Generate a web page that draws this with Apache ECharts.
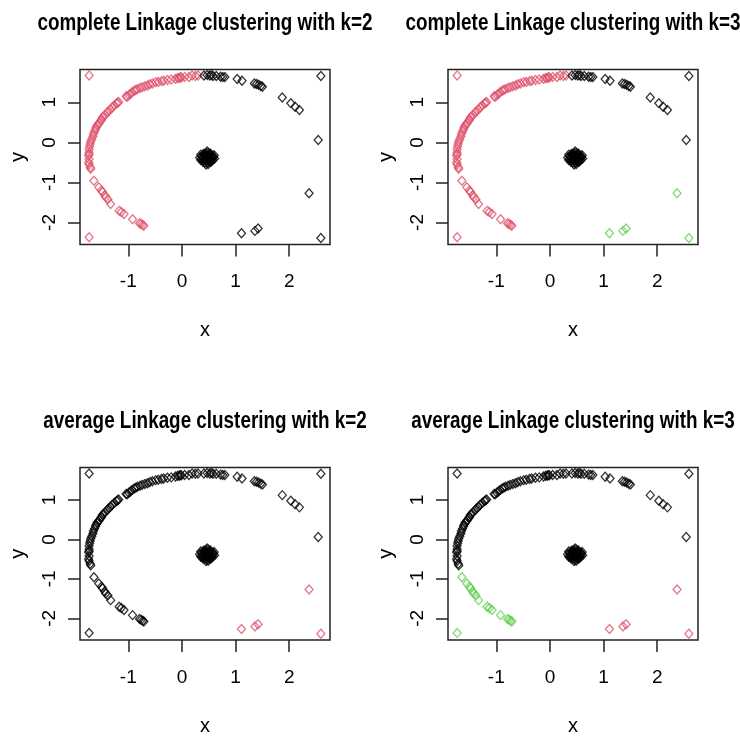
<!DOCTYPE html>
<html>
<head>
<meta charset="utf-8">
<script src="https://cdn.jsdelivr.net/npm/echarts@6/dist/echarts.min.js"></script>
<style>
html,body{margin:0;padding:0;background:#fff;}
#chart{width:740px;height:737px;}
</style>
</head>
<body>
<div id="chart"></div>
<script>
// ---- data ----
// top-left arc and upper left side
var groupA = [[-1.73,1.67],[0.30,1.67],[0.25,1.66],[0.19,1.67],[0.13,1.63],[0.05,1.63],[-0.01,1.62],[-0.03,1.63],[-0.05,1.61],[-0.08,1.61],[-0.12,1.59],[-0.20,1.57],[-0.27,1.56],[-0.34,1.54],[-0.38,1.53],[-0.44,1.51],[-0.49,1.50],[-0.55,1.47],[-0.60,1.45],[-0.64,1.42],[-0.69,1.40],[-0.74,1.38],[-0.78,1.36],[-0.83,1.33],[-0.86,1.31],[-0.89,1.29],[-0.93,1.25],[-0.96,1.21],[-0.99,1.18],[-1.02,1.14],[-1.04,1.15],[-1.18,1.01],[-1.20,0.99],[-1.22,0.97],[-1.26,0.93],[-1.30,0.87],[-1.33,0.83],[-1.36,0.79],[-1.39,0.75],[-1.43,0.69],[-1.46,0.65],[-1.48,0.62],[-1.50,0.57],[-1.51,0.54],[-1.54,0.49],[-1.56,0.45],[-1.58,0.42],[-1.60,0.37],[-1.61,0.33],[-1.63,0.27],[-1.65,0.21],[-1.66,0.15],[-1.68,0.08],[-1.70,0.02],[-1.71,-0.04],[-1.72,-0.10],[-1.73,-0.17],[-1.73,-0.25],[-1.73,-0.30],[-1.74,-0.33],[-1.73,-0.42],[-1.74,-0.50],[-1.73,-0.55],[-1.71,-0.62],[-1.70,-0.66]];
// lower-left arc
var groupB = [[-1.64,-0.96],[-1.55,-1.12],[-1.50,-1.20],[-1.48,-1.24],[-1.44,-1.32],[-1.42,-1.37],[-1.38,-1.42],[-1.33,-1.54],[-1.17,-1.71],[-1.13,-1.74],[-1.08,-1.79],[-0.92,-1.92],[-0.79,-2.02],[-0.76,-2.04],[-0.73,-2.06],[-0.71,-2.08],[-1.73,-2.37]];
// top-right arc and right side
var groupC = [[0.41,1.67],[0.47,1.68],[0.52,1.67],[0.55,1.68],[0.58,1.66],[0.64,1.66],[0.72,1.64],[0.76,1.63],[0.80,1.63],[1.03,1.585],[1.12,1.54],[1.35,1.47],[1.39,1.46],[1.43,1.44],[1.47,1.41],[1.50,1.39],[1.87,1.12],[2.03,0.98],[2.11,0.89],[2.19,0.81],[2.54,0.06],[2.59,1.66]];
// bottom-right points
var groupD = [[2.37,-1.27],[1.11,-2.27],[1.36,-2.21],[1.42,-2.15],[2.59,-2.39]];
// central blob
var groupE = [[0.40,-0.29],[0.44,-0.27],[0.49,-0.26],[0.53,-0.28],[0.37,-0.35],[0.42,-0.34],[0.46,-0.33],[0.51,-0.34],[0.56,-0.33],[0.37,-0.40],[0.43,-0.39],[0.48,-0.38],[0.52,-0.40],[0.57,-0.38],[0.39,-0.45],[0.45,-0.44],[0.50,-0.46],[0.55,-0.44],[0.42,-0.50],[0.47,-0.51],[0.52,-0.49],[0.45,-0.55],[0.35,-0.31],[0.47,-0.23],[0.59,-0.36],[0.58,-0.43],[0.39,-0.48],[0.44,-0.36],[0.49,-0.42],[0.53,-0.37],[0.41,-0.41],[0.46,-0.48],[0.50,-0.31],[0.43,-0.31],[0.55,-0.48],[0.49,-0.54],[0.33,-0.38],[0.61,-0.40],[0.60,-0.32],[0.35,-0.44]];

var titles = ["complete Linkage clustering with k=2","complete Linkage clustering with k=3","average Linkage clustering with k=2","average Linkage clustering with k=3"];
var xTicks = [-1, 0, 1, 2];
var yTicks = [-2, -1, 0, 1];
// colour of each group (A,B,C,D,E) in each panel
var panelColors = [
  ["#DF536B","#DF536B","#000000","#000000","#000000"],
  ["#DF536B","#DF536B","#000000","#61D04F","#000000"],
  ["#000000","#000000","#000000","#DF536B","#000000"],
  ["#000000","#61D04F","#000000","#DF536B","#000000"]
];

// ---- layout ----
var groups = [groupA, groupB, groupC, groupD, groupE];
var FONT = "'Liberation Sans',Arial,sans-serif";
var boxes = [
  {left:80, top:69.5},
  {left:448, top:69.5},
  {left:80, top:467.5},
  {left:448, top:467.5}
];
var BW = 250, BH = 175;

var option = {
  animation:false,
  backgroundColor:'#ffffff',
  grid:[], xAxis:[], yAxis:[], series:[], graphic:[]
};

boxes.forEach(function(b, i){
  option.grid.push({left:b.left, top:b.top, width:BW, height:BH, show:true,
    borderColor:'#222', borderWidth:1.5, backgroundColor:'transparent', containLabel:false});
  option.xAxis.push({type:'value', gridIndex:i, min:-1.90, max:2.76,
    name:'x', nameLocation:'middle', nameGap:76,
    nameTextStyle:{fontFamily:FONT, fontSize:20, color:'#000'},
    axisLine:{show:false, onZero:false}, splitLine:{show:false},
    axisTick:{show:true, length:12, customValues:xTicks, lineStyle:{color:'#222', width:1.5}},
    axisLabel:{show:true, margin:28, customValues:xTicks, fontFamily:FONT, fontSize:19, color:'#000'}
  });
  option.yAxis.push({type:'value', gridIndex:i, min:-2.55, max:1.82,
    name:'y', nameLocation:'middle', nameGap:52,
    nameTextStyle:{fontFamily:FONT, fontSize:20, color:'#000'},
    axisLine:{show:false, onZero:false}, splitLine:{show:false},
    axisTick:{show:true, length:12, customValues:yTicks, lineStyle:{color:'#222', width:1.5}},
    axisLabel:{show:true, rotate:90, margin:21, customValues:yTicks, fontFamily:FONT, fontSize:19, color:'#000'}
  });
  groups.forEach(function(g, k){
    option.series.push({type:'scatter', xAxisIndex:i, yAxisIndex:i, data:g,
      symbol:'diamond', symbolSize:[8,9],
      itemStyle:{color:'rgba(0,0,0,0)', borderColor:panelColors[i][k], borderWidth:1.3},
      emphasis:{disabled:true}, silent:true});
  });
  option.graphic.push({type:'text', x:b.left + BW/2, y:b.top - 46, scaleX:0.82,
    style:{text:titles[i], fontFamily:FONT, fontWeight:'bold', fontSize:23, fill:'#000',
      align:'center', verticalAlign:'middle'}});
});

var chart = echarts.init(document.getElementById('chart'), null, {renderer:'canvas'});
chart.setOption(option);
</script>
</body>
</html>
